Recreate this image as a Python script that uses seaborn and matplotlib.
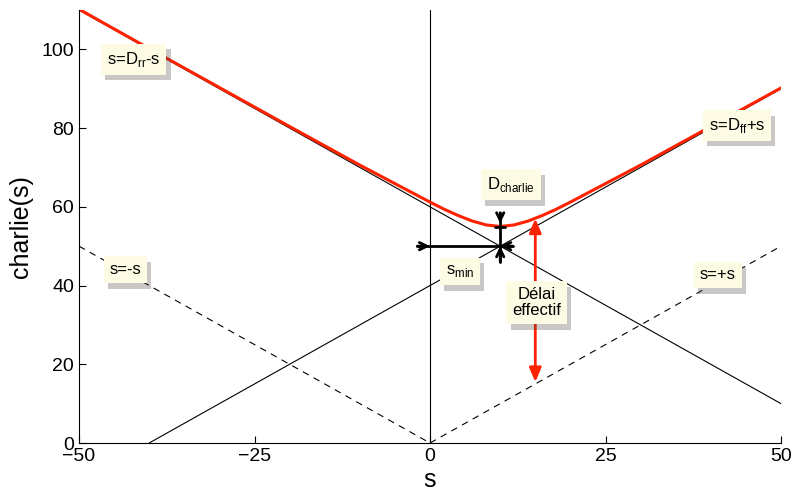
import matplotlib
matplotlib.use("Agg")
import matplotlib.pyplot as plt
import matplotlib.patheffects as pe
import seaborn as sns

# straight guide lines (end points)
drr_x = [-50, 50]
drr_y = [110, 10]
dff_x = [-40, 50]
dff_y = [0, 90]
neg_x = [-50, 0]
neg_y = [50, 0]
pos_x = [0, 50]
pos_y = [0, 50]

# red curve charlie(s)
curve_x = [-50, -40, -30, -20, -10, -5, 0, 2, 4, 6, 8, 10, 12, 14, 16, 18, 20, 25, 30, 40, 50]
curve_y = [110.2, 100.2, 90.3, 80.4, 70.6, 65.9, 61.2, 59.4, 57.8, 56.4, 55.4, 55.0, 55.4, 56.4, 57.8, 59.4, 61.2, 65.9, 70.6, 80.4, 90.2]

S_MIN = 10
Y_CROSS = 50
D_TOP = 55
EFF_X = 15
EFF_LOW, EFF_HIGH = 15.5, 57

LABELS = [
    (r"s=D$_{\rm rr}$-s", -42.2, 97.5),
    (r"s=D$_{\rm ff}$+s", 43.7, 80.7),
    ("s=-s", -43.4, 44),
    ("s=+s", 41, 42.7),
    (r"D$_{\rm charlie}$", 11.5, 65.6),
    (r"s$_{\rm min}$", 4.3, 43.6),
    ("Délai\neffectif", 15.2, 35.6),
]

sns.set_theme(style="ticks")
plt.rcParams['font.family'] = ['Liberation Sans', 'DejaVu Sans']
plt.rcParams['mathtext.fontset'] = 'custom'
plt.rcParams['mathtext.rm'] = 'Liberation Sans'
plt.rcParams['text.color'] = 'black'
plt.rcParams['axes.labelcolor'] = 'black'
plt.rcParams['xtick.color'] = 'black'
plt.rcParams['ytick.color'] = 'black'

fig = plt.figure(figsize=(7.92, 4.93), dpi=100)
ax = fig.add_axes([79 / 792, 50 / 493, 702 / 792, 433 / 493])

kw = dict(ax=ax, color="black", linewidth=0.8, sort=False)
sns.lineplot(x=drr_x, y=drr_y, **kw)
sns.lineplot(x=dff_x, y=dff_y, **kw)
sns.lineplot(x=neg_x, y=neg_y, linestyle=(0, (6, 5)), **kw)
sns.lineplot(x=pos_x, y=pos_y, linestyle=(0, (6, 5)), **kw)
ax.axvline(0, color="black", linewidth=0.8)
sns.lineplot(x=curve_x, y=curve_y, ax=ax, color="#ff2200", linewidth=2.2, sort=False)

# s_min and D_charlie markers
blk = dict(color="black", linewidth=2)
ax.plot([-1.8, S_MIN + 1.8], [Y_CROSS, Y_CROSS], **blk)
ax.plot([S_MIN, S_MIN], [Y_CROSS - 4, D_TOP + 3.5], **blk)
ax.plot([S_MIN - 0.7, S_MIN + 0.7], [D_TOP, D_TOP], **blk)
head = dict(arrowstyle="->,head_length=0.45,head_width=0.22", color="black", lw=2, shrinkA=0, shrinkB=0)
ax.annotate("", xy=(0, Y_CROSS), xytext=(-1.8, Y_CROSS), arrowprops=head)
ax.annotate("", xy=(S_MIN, Y_CROSS), xytext=(S_MIN + 1.8, Y_CROSS), arrowprops=head)
ax.annotate("", xy=(S_MIN, Y_CROSS), xytext=(S_MIN, Y_CROSS - 4), arrowprops=head)
ax.annotate("", xy=(S_MIN, D_TOP + 0.8), xytext=(S_MIN, D_TOP + 3.5), arrowprops=head)

# effective delay arrow
ax.annotate("", xy=(EFF_X, EFF_HIGH), xytext=(EFF_X, EFF_LOW),
            arrowprops=dict(arrowstyle="<|-|>,head_length=0.7,head_width=0.3",
                            color="#ff2200", lw=2, shrinkA=0, shrinkB=0))

for txt, x, y in LABELS:
    t = ax.text(x, y, txt, ha="center", va="center", fontsize=12, zorder=5,
                linespacing=1.1, color="black",
                bbox=dict(boxstyle="square,pad=0.35", fc="#fdfbe3", ec="none"))
    t.get_bbox_patch().set_path_effects([pe.withSimplePatchShadow(offset=(3, -4), alpha=0.3),
                                         pe.Normal()])

ax.set_xlim(-50, 50)
ax.set_ylim(0, 110)
ax.set_xticks([-50, -25, 0, 25, 50])
ax.set_yticks([0, 20, 40, 60, 80, 100])
ax.tick_params(direction="in", length=5, labelsize=14, width=0.8)
ax.set_xlabel("s", fontsize=18, labelpad=2)
ax.set_ylabel("charlie(s)", fontsize=18, labelpad=6)
sns.despine(ax=ax)
for sp in ax.spines.values():
    sp.set_linewidth(0.8)
    sp.set_color("black")

fig.savefig("out.png", dpi=100)
